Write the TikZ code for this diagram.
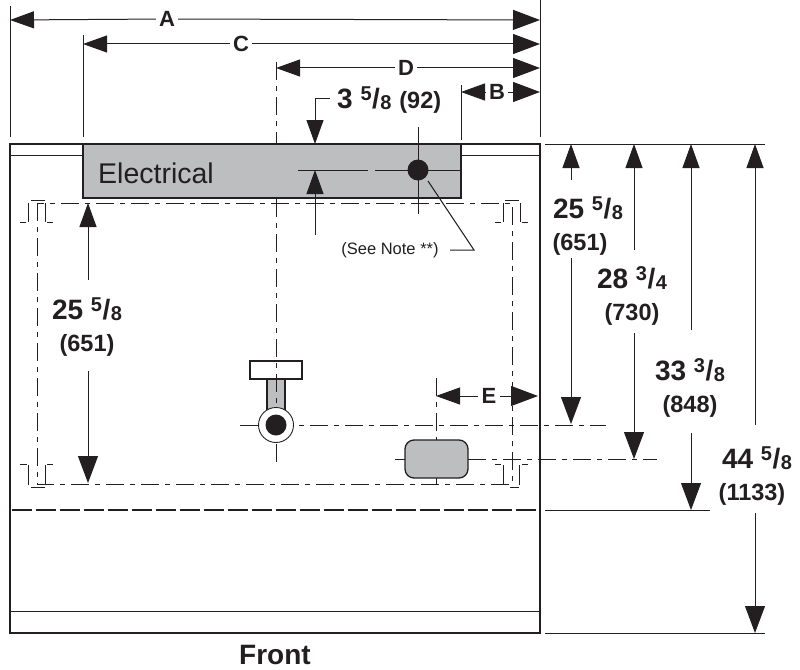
\documentclass[tikz,border=0pt]{standalone}
\usepackage{fontspec}
\setmainfont{Liberation Sans}
\usepackage{xcolor}
\usetikzlibrary{arrows.meta, positioning, calc}
\definecolor{ink}{HTML}{231F20}
\definecolor{panel}{HTML}{BCBEC0}
\newcommand{\dimfrac}[2]{\raisebox{.3em}{\fontsize{20}{20}\selectfont #1}\kern.5pt/\kern.5pt\raisebox{-.04em}{\fontsize{20}{20}\selectfont #2}}
\newcommand{\dimmm}[1]{{\fontsize{23.5}{23.5}\selectfont(#1)}}
\tikzset{
	dimline/.style={ink, line width=1pt, -{Triangle[length=24pt,width=17pt]}},
	dimlarge/.style={ink, line width=1pt, -{Triangle[length=27pt,width=20pt]}},
	extline/.style={ink, line width=1pt},
	centerline/.style={ink, line width=1pt, dash pattern=on 18pt off 6pt on 5pt off 6pt},
	hiddenline/.style={ink, line width=1.2pt, dash pattern=on 20pt off 4pt},
	outline/.style={ink, line width=1.8pt},
	letterlabel/.style={text=ink, font=\fontsize{22}{22}\selectfont\bfseries, inner sep=3pt},
	sizelabel/.style={text=ink, align=center, inner sep=2pt, font=\fontsize{28}{32}\selectfont\bfseries},
	notelabel/.style={text=ink, font=\fontsize{16.5}{18}\selectfont, inner sep=1pt},
}
\begin{document}
\begin{tikzpicture}[x=1pt,y=-1pt]
		\useasboundingbox (0,0) rectangle (800,669);

		% Cabinet
		\fill[panel] (83,144) rectangle (461,198);
		\draw[outline] (10,144) rectangle (540,633);
		\draw[extline] (10,155) -- (83,155);
		\draw[extline] (461,155) -- (540,155);
		\draw[extline] (10,611) -- (540,611);
		\draw[outline] (83,144) rectangle (461,198);
		\node[anchor=west, text=ink, font=\fontsize{28.5}{28.5}\selectfont, inner sep=0pt] (electrical) at (98,173) {Electrical};

		% Drain and pipe
		\draw[outline, fill=panel] (267,379) rectangle (285,412);
		\draw[outline, fill=white] (250,361) rectangle (302,379);
		\node[draw=ink, line width=1.3pt, fill=panel, rounded corners=9pt, minimum width=63pt, minimum height=38pt, inner sep=0pt] (port) at (436.5,459) {};

		% Center lines
		\draw[centerline] (37,203) rectangle (512,484);
		\draw[centerline] (276,62) -- (276,144);
		\draw[centerline] (276,199) -- (276,462);
		\draw[centerline] (240,425) -- (606,425);
		\draw[centerline] (395,459) -- (405,459);
		\draw[centerline] (468,459) -- (657,459);
		\draw[centerline] (436,378) -- (436,440);
		\draw[centerline] (436,478) -- (436,485);
		\draw[hiddenline] (12,510) -- (537,510);

		% Corner marks
		\draw[extline] (28,203) -- (28,222) (45,203) -- (45,222) (31,200) -- (45,200) (20,222) -- (26,222) (47,222) -- (53,222);
		\draw[extline] (503,203) -- (503,222) (520,203) -- (520,222) (505,200) -- (519,200) (495,222) -- (501,222) (522,222) -- (528,222);
		\draw[extline] (28,465) -- (28,485) (45,465) -- (45,485) (31,487) -- (45,487) (20,464) -- (27,464) (47,464) -- (53,464);
		\draw[extline] (503,465) -- (503,485) (519,465) -- (519,485) (510,487) -- (519,487) (495,464) -- (501,464) (522,464) -- (528,464);

		% Drain ring
		\node[circle, draw=ink, line width=0.9pt, fill=white, minimum size=35pt, inner sep=0pt] (drainring) at (276,425) {};
		\node[circle, fill=ink, minimum size=21pt, inner sep=0pt] (draindot) at (276,425) {};

		% Power connection
		\draw[extline] (298,170) -- (368,170);
		\draw[extline] (375,170) -- (462,170);
		\draw[extline] (418,127) -- (418,214);
		\node[circle, fill=ink, minimum size=21pt, inner sep=0pt] (powerdot) at (418,170) {};
		\node[notelabel] (note) at (390,250) {(See Note **)};
		\coordinate (noteknee) at (474,250);
		\draw[extline] (450,250) -- (noteknee) -- (428,181);

		% Extension lines
		\draw[extline] (10,6) -- (10,137);
		\draw[extline] (83,35) -- (83,137);
		\draw[extline] (461,85) -- (461,140);
		\draw[extline] (540,0) -- (540,137);
		\draw[extline] (545,144) -- (765,144);
		\draw[extline] (545,510) -- (710,510);
		\draw[extline] (545,633) -- (765,633);

		% Horizontal dimensions
		\coordinate (Aleft) at (10,20);
		\coordinate (Aright) at (540,20);
		\coordinate (Cleft) at (83,44);
		\coordinate (Cright) at (540,44);
		\coordinate (Dleft) at (276,68);
		\coordinate (Dright) at (540,68);
		\coordinate (Bleft) at (461,92);
		\coordinate (Bright) at (540,92);
		\coordinate (Eleft) at (436,396);
		\coordinate (Eright) at (538,396);
		\node[letterlabel] (A) at (167,19) {A};
		\node[letterlabel] (C) at (241,44) {C};
		\node[letterlabel] (D) at (406,68) {D};
		\node[letterlabel] (B) at (497,92) {B};
		\node[letterlabel] (E) at (489,396) {E};
		\draw[dimline] (A) -- (Aleft);
		\draw[dimlarge] (A) -- (Aright);
		\draw[dimline] (C) -- (Cleft);
		\draw[dimlarge] (C) -- (Cright);
		\draw[dimline] (D) -- (Dleft);
		\draw[dimlarge] (D) -- (Dright);
		\draw[dimline] (B) -- (Bleft);
		\draw[dimlarge] (B) -- (Bright);
		\draw[dimline] (E) -- (Eleft);
		\draw[dimlarge] (E) -- (Eright);

		% Panel height
		\node[sizelabel, anchor=west, inner sep=0pt] (panelsize) at (337,100) {3 \dimfrac{5}{8} \dimmm{92}};
		\coordinate (panelknee) at (315,98);
		\coordinate (paneltop) at (315,144);
		\coordinate (panelmid) at (315,170);
		\coordinate (panelstub) at (315,235);
		\draw[dimline] (330,98) -- (panelknee) -- (paneltop);
		\draw[dimline] (panelstub) -- (panelmid);

		% Vertical dimensions
		\node[sizelabel] (sizeleft) at (87,327) {25 \dimfrac{5}{8}\\\dimmm{651}};
		\node[sizelabel] (sizedrain) at (588,226) {25 \dimfrac{5}{8}\\\hspace*{-16pt}\dimmm{651}};
		\node[sizelabel] (sizeport) at (632,296) {28 \dimfrac{3}{4}\\\dimmm{730}};
		\node[sizelabel] (sizefloor) at (690,388) {33 \dimfrac{3}{8}\\\dimmm{848}};
		\node[sizelabel] (sizebase) at (757,476) {44 \dimfrac{5}{8}\\\hspace*{-10pt}\dimmm{1133}};

		\draw[dimline] (88,280) -- (88,203);
		\draw[dimlarge] (88,371) -- (88,483);
		\draw[dimline] (571,180) -- (571,144);
		\draw[dimlarge] (571,258) -- (571,424);
		\draw[dimline] (634,250) -- (634,144);
		\draw[dimlarge] (634,333) -- (634,459);
		\draw[dimline] (691,330) -- (691,144);
		\draw[dimlarge] (691,433) -- (691,510);
		\draw[dimline] (755,425) -- (755,144);
		\draw[dimlarge] (755,513) -- (755,633);

		\node[text=ink, font=\fontsize{28}{28}\selectfont\bfseries, inner sep=0pt] (front) at (275,655) {Front};
	  \end{tikzpicture}
\end{document}
